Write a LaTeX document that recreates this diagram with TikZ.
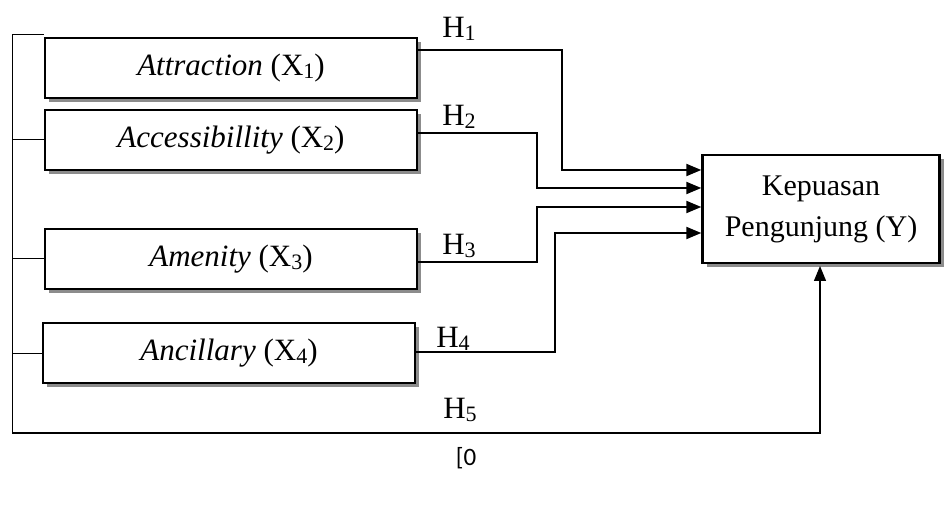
\documentclass[tikz,border=0pt]{standalone}
\usepackage{fontspec}
\setmainfont{Liberation Serif}
\newfontfamily\notefont{Carlito}
\usetikzlibrary{arrows.meta,shadows,calc}
% index digit set below the baseline, as in X1, H1
\newcommand\subidx[1]{\raisebox{-3pt}{\fontsize{22}{22}\selectfont #1}}
\tikzset{
  varbox/.style={draw, line width=2.4pt, fill=white, inner sep=0pt,
    minimum width=372pt, minimum height=60pt,
    general shadow={fill=black!45, shadow xshift=4pt, shadow yshift=-4pt},
    font=\fontsize{31}{35}\selectfont},
  ybox/.style={varbox, minimum width=237pt, minimum height=108pt, align=center,
    font=\fontsize{30}{41}\selectfont},
  link/.style={line width=2pt, -{Triangle[length=15pt,width=12pt]}},
  rail/.style={line width=1pt},
  hlab/.style={font=\fontsize{31}{35}\selectfont, inner sep=0pt},
}
\begin{document}
\begin{tikzpicture}[x=1pt,y=-1pt]
\useasboundingbox (0,0) rectangle (950,521);

% independent variables
\node[varbox] (x1) at (231,68)  {\textit{Attraction} (X\subidx{1})};
\node[varbox] (x2) at (231,140) {\textit{Accessibillity} (X\subidx{2})};
\node[varbox] (x3) at (231,259) {\textit{Amenity} (X\subidx{3})};
\node[varbox] (x4) at (229,353) {\textit{Ancillary} (X\subidx{4})};

% dependent variable
\node[ybox] (y) at (821,209) {Kepuasan\\Pengunjung (Y)};

% left rail joining all four variables
\coordinate (rt) at (12,35);
\coordinate (rb) at (12,433);
\draw[rail] (x1.west |- rt) -- (rt) -- (rb);
\draw[rail] (rt |- x2.west) -- (x2.west);
\draw[rail] (rt |- x3.west) -- (x3.west);
\draw[rail] (rt |- x4.west) -- (x4.west);

% hypothesis paths H1--H4
\draw[link] (x1.east |- 0,50)  -| (562,170) -- (y.west |- 0,170);
\draw[link] (x2.east |- 0,133) -| (537,188) -- (y.west |- 0,188);
\draw[link] (x3.east |- 0,262) -| (537,207) -- (y.west |- 0,207);
\draw[link] (x4.east |- 0,352) -| (555,233) -- (y.west |- 0,233);

% simultaneous path H5
\draw[line width=1.3pt, -{Triangle[length=15pt,width=12pt]}]
  (rb) -- (820,433) -- (820,266);

% labels
\node[hlab] (h1) at (459,29)  {H\subidx{1}};
\node[hlab] (h2) at (459,117) {H\subidx{2}};
\node[hlab] (h3) at (459,246) {H\subidx{3}};
\node[hlab] (h4) at (453,339) {H\subidx{4}};
\node[hlab] (h5) at (460,410) {H\subidx{5}};
\node[hlab, font=\notefont\fontsize{25}{28}\selectfont] (z) at (466,458) {[0};
\end{tikzpicture}
\end{document}
